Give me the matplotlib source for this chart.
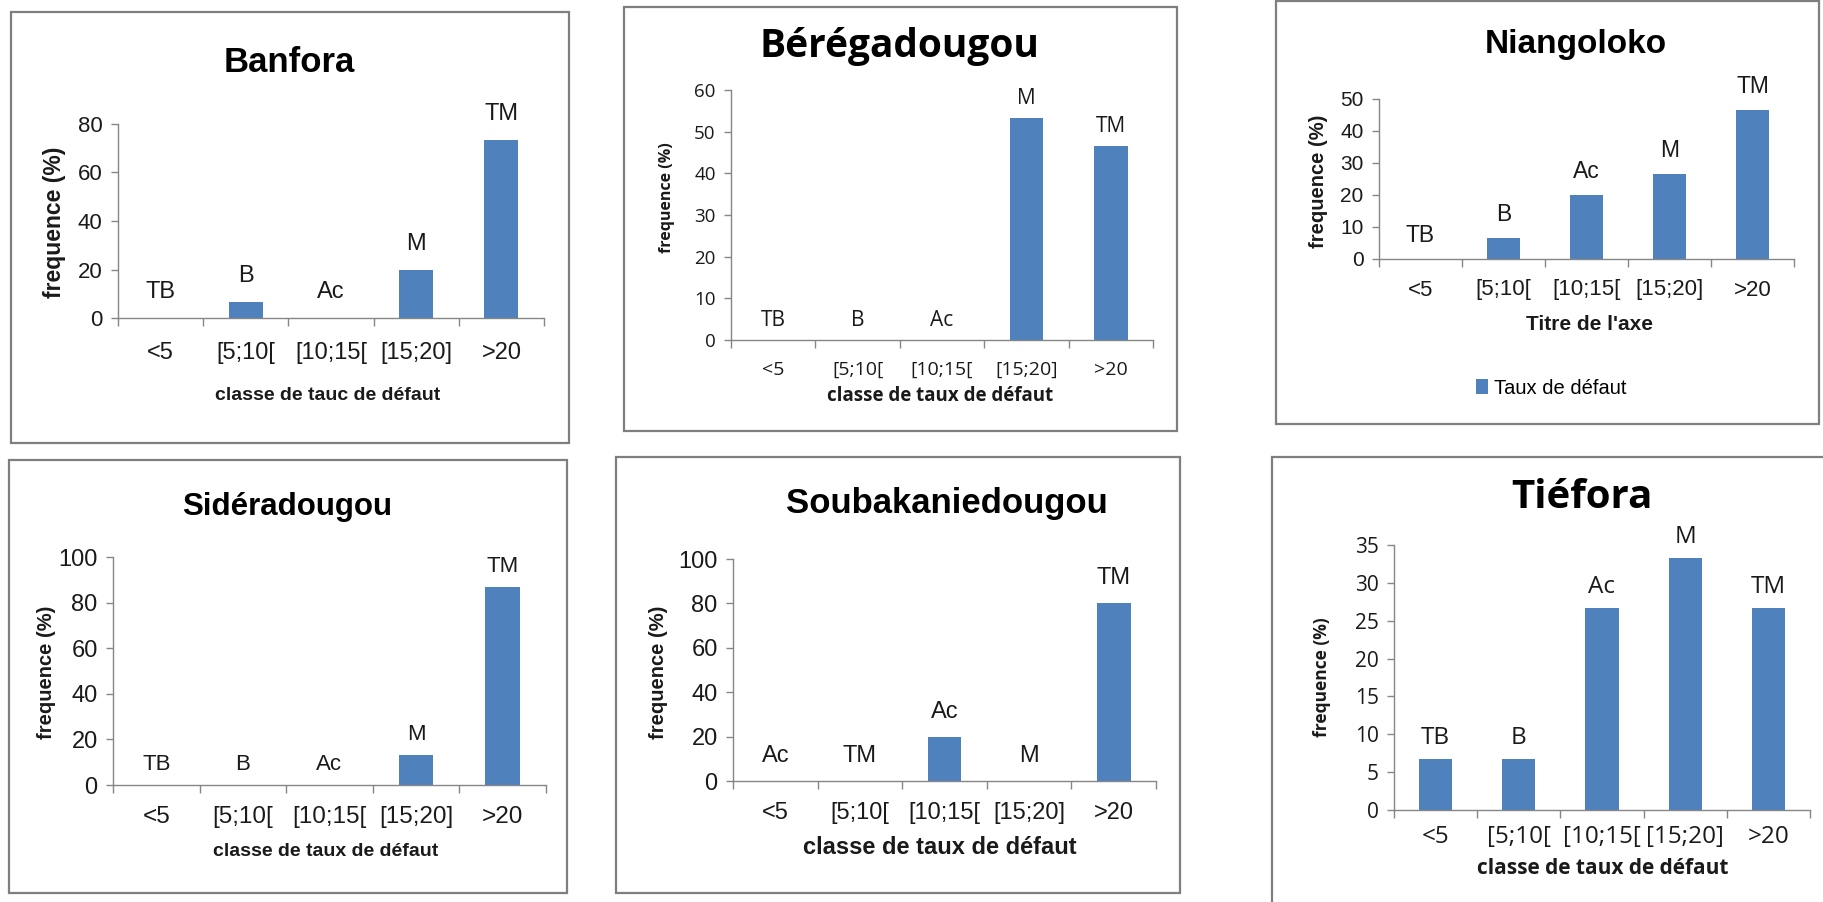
import matplotlib
matplotlib.use("Agg")
import matplotlib.pyplot as plt
from matplotlib.patches import Rectangle
from matplotlib.transforms import blended_transform_factory

W, H = 1823, 902
DPI = 100

BAR_COLOR = "#4F81BD"
AXIS_COLOR = "#868686"
FRAME_COLOR = "#7F7F7F"
TEXT_COLOR = "#1A1A1A"

ARIAL = ["Liberation Sans", "DejaVu Sans"]
SEGOE = ["Open Sans", "DejaVu Sans"]

# ---- data -------------------------------------------------------------
categories = ["<5", "[5;10[", "[10;15[", "[15;20]", ">20"]
classes = ["TB", "B", "Ac", "M", "TM"]

banfora = [0, 6.67, 0, 20, 73.33]
beregadougou = [0, 0, 0, 53.33, 46.67]
niangoloko = [0, 6.67, 20, 26.67, 46.67]
sideradougou = [0, 0, 0, 13.33, 86.67]
soubakaniedougou = [0, 0, 20, 0, 80]
soubakaniedougou_labels = ["Ac", "TM", "Ac", "M", "TM"]
tiefora = [6.67, 6.67, 26.67, 33.33, 26.67]


def px_rect(x0, y0, x1, y1):
    """Pixel box (top-left origin) -> figure fraction rect."""
    return [x0 / W, 1 - y1 / H, (x1 - x0) / W, (y1 - y0) / H]


def draw_panel(fig, title, values, labels, xlabel, ymax, ystep, lay, st):
    fr = lay["frame"]
    fig.add_artist(Rectangle((fr[0] / W, 1 - fr[3] / H), (fr[2] - fr[0]) / W,
                             (fr[3] - fr[1]) / H, transform=fig.transFigure,
                             fill=False, ec=FRAME_COLOR, lw=1.6))

    x0, ytop, x1, yzero = lay["axes"]
    ax = fig.add_axes(px_rect(x0, ytop, x1, yzero))
    xs = range(len(values))
    bars = ax.bar(xs, values, width=0.4, color=BAR_COLOR, zorder=2)

    ax.set_xlim(-0.5, len(values) - 0.5)
    ax.set_ylim(0, ymax)
    ax.set_yticks(range(0, ymax + 1, ystep))
    ax.set_xticks([i - 0.5 for i in range(len(values) + 1)])
    ax.set_xticklabels([])
    for side in ("top", "right"):
        ax.spines[side].set_visible(False)
    for side in ("left", "bottom"):
        ax.spines[side].set_color(AXIS_COLOR)
        ax.spines[side].set_linewidth(1.0)
    ax.tick_params(axis="y", length=5, width=1, color=AXIS_COLOR, pad=6,
                   labelsize=st["tick"], labelcolor=TEXT_COLOR)
    ax.tick_params(axis="x", length=6, width=1, color=AXIS_COLOR)
    for t in ax.get_yticklabels():
        t.set_family(st["font"])
    ax.patch.set_visible(False)

    # category names under each bar
    tr = blended_transform_factory(ax.transData, fig.transFigure)
    for i, cat in enumerate(categories):
        ax.text(i, 1 - lay["cat_y"] / H, cat, transform=tr, ha="center",
                va="center", fontsize=st["cat"], family=st["font"],
                color=TEXT_COLOR)

    # class labels above bars
    for i, (v, lab) in enumerate(zip(values, labels)):
        ax.annotate(lab, (i, v), xytext=(0, lay["gap"]),
                    textcoords="offset pixels", ha="center", va="baseline",
                    fontsize=st["lab"], family=st["font"],
                    color=TEXT_COLOR, annotation_clip=False)

    tx, ty = lay["title"]
    fig.text(tx / W, 1 - ty / H, title, ha="center", va="center",
             fontsize=st["title"], fontweight="bold", family=st["font"])
    lx, ly = lay["xlab"]
    fig.text(lx / W, 1 - ly / H, xlabel, ha="center", va="center",
             fontsize=st["xlab"], fontweight="bold", family=st["font"],
             color=TEXT_COLOR)
    yx, yy = lay["ylab"]
    fig.text(yx / W, 1 - yy / H, "frequence (%)", ha="center", va="center",
             rotation=90, fontsize=st["ylab"], fontweight="bold",
             family=st["font"], color=TEXT_COLOR)
    return ax, bars


fig = plt.figure(figsize=(W / DPI, H / DPI), dpi=DPI)
fig.patch.set_facecolor("white")

draw_panel(fig, "Banfora", banfora, classes, "classe de tauc de défaut", 80, 20,
           dict(frame=(11, 12, 569, 443), axes=(118, 124, 544, 318),
                title=(289, 63), ylab=(55, 222), cat_y=353, xlab=(328, 395),
                gap=20),
           dict(font=ARIAL, title=25, tick=16, cat=17, lab=17, xlab=14,
                ylab=16.5))

draw_panel(fig, "Bérégadougou", beregadougou, classes,
           "classe de taux de défaut", 60, 10,
           dict(frame=(624, 7, 1177, 431), axes=(731, 90, 1153, 340),
                title=(899, 47), ylab=(667, 198), cat_y=370, xlab=(940, 396),
                gap=14),
           dict(font=SEGOE, title=28, tick=13.5, cat=14, lab=15, xlab=13.5,
                ylab=11.5))

ax_n, bars_n = draw_panel(
    fig, "Niangoloko", niangoloko, classes, "Titre de l'axe", 50, 10,
    dict(frame=(1276, 1, 1819, 424), axes=(1379, 99, 1794, 259),
         title=(1576, 45), ylab=(1318, 181), cat_y=290, xlab=(1590, 325),
         gap=17),
    dict(font=ARIAL, title=24, tick=15, cat=16, lab=16.5, xlab=15,
         ylab=14.5))
ax_n.legend([bars_n], ["Taux de défaut"], loc="center left",
            bbox_to_anchor=(1476 / W, 1 - 388 / H),
            bbox_transform=fig.transFigure, frameon=False, handlelength=0.6,
            handleheight=0.8, handletextpad=0.3, borderpad=0, borderaxespad=0,
            prop=dict(family=ARIAL, size=14.5))

draw_panel(fig, "Sidéradougou", sideradougou, classes,
           "classe de taux de défaut", 100, 20,
           dict(frame=(9, 460, 567, 893), axes=(113, 557, 546, 785),
                title=(287, 507), ylab=(47, 672), cat_y=817, xlab=(326, 852),
                gap=15),
           dict(font=ARIAL, title=22.5, tick=17, cat=17.5, lab=16, xlab=14,
                ylab=14.5))

draw_panel(fig, "Soubakaniedougou", soubakaniedougou, soubakaniedougou_labels,
           "classe de taux de défaut", 100, 20,
           dict(frame=(616, 457, 1180, 893), axes=(733, 559, 1156, 781),
                title=(947, 503), ylab=(659, 672), cat_y=813, xlab=(940, 848),
                gap=19),
           dict(font=ARIAL, title=25, tick=17, cat=17, lab=17, xlab=17,
                ylab=14.5))

draw_panel(fig, "Tiéfora", tiefora, classes, "classe de taux de défaut", 35, 5,
           dict(frame=(1272, 457, 1840, 920), axes=(1394, 545, 1810, 810),
                title=(1582, 498), ylab=(1322, 677), cat_y=837,
                xlab=(1603, 868), gap=15),
           dict(font=SEGOE, title=29, tick=15, cat=17.5, lab=17.5, xlab=15,
                ylab=12.5))

fig.savefig("out.png", dpi=DPI)
